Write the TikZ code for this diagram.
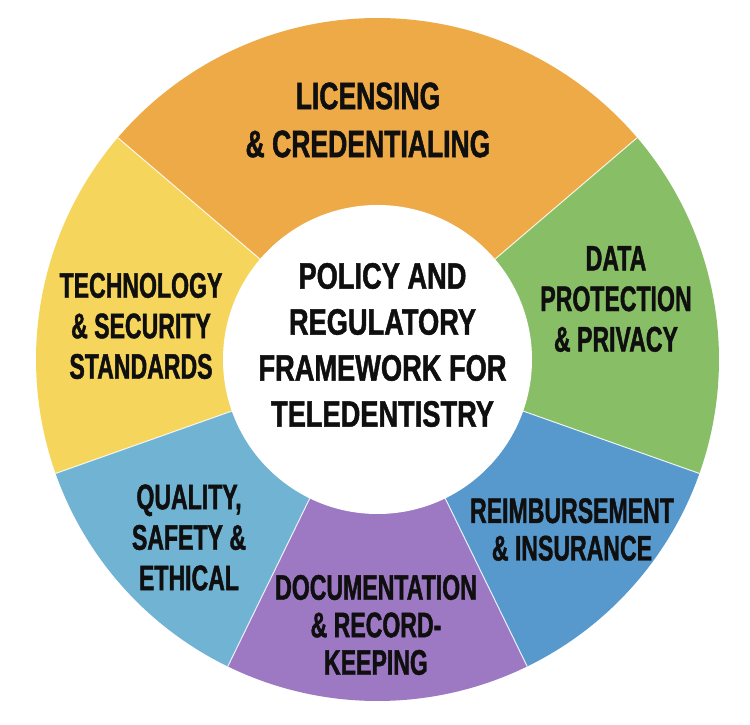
\documentclass[tikz,border=0pt]{standalone}
\usepackage{fontspec}
\newfontfamily\fontHub[FakeStretch=0.74,FakeBold=1.2]{Liberation Sans}
\newfontfamily\fontBig[FakeStretch=0.695,FakeBold=1.2]{Liberation Sans}
\newfontfamily\fontLab[FakeStretch=0.65,FakeBold=1.2]{Liberation Sans}
\usetikzlibrary{calc}
\definecolor{cOrange}{RGB}{238,170,70}
\definecolor{cYellow}{RGB}{246,213,92}
\definecolor{cGreen}{RGB}{136,190,102}
\definecolor{cBlue}{RGB}{88,153,205}
\definecolor{cLight}{RGB}{113,179,211}
\definecolor{cPurple}{RGB}{157,120,195}
\definecolor{cInk}{RGB}{15,15,15}
\begin{document}
\begin{tikzpicture}[x=1pt,y=1pt,
  sep/.style={draw=white, line width=1pt, opacity=0.85},
  lab/.style={align=center, text=cInk, inner sep=0pt, font=\fontLab\bfseries\fontsize{35.5}{40.5}\selectfont},
  labtight/.style={lab, font=\fontLab\bfseries\fontsize{35.5}{37.5}\selectfont},
  labbig/.style={align=center, text=cInk, inner sep=0pt, font=\fontBig\bfseries\fontsize{38.2}{48}\selectfont},
  hubtext/.style={align=center, text=cInk, inner sep=0pt, font=\fontHub\bfseries\fontsize{36.8}{46}\selectfont},
  hubdisk/.style={circle, fill=white, draw=none, minimum size=309pt, inner sep=0pt}]
\useasboundingbox (0,0) rectangle (750,725);
\fill[white] (0,0) rectangle (750,725);
\coordinate (C) at (377.5,365.5);
% sectors
\fill[cOrange] (C) -- ($(C)+(40.5:341.5pt)$) arc[start angle=40.5, end angle=139.5, radius=341.5pt] -- cycle;
\fill[cYellow] (C) -- ($(C)+(139.5:341.5pt)$) arc[start angle=139.5, end angle=199.5, radius=341.5pt] -- cycle;
\fill[cLight] (C) -- ($(C)+(199.5:341.5pt)$) arc[start angle=199.5, end angle=244, radius=341.5pt] -- cycle;
\fill[cPurple] (C) -- ($(C)+(244:341.5pt)$) arc[start angle=244, end angle=296, radius=341.5pt] -- cycle;
\fill[cBlue] (C) -- ($(C)+(296:341.5pt)$) arc[start angle=296, end angle=340.5, radius=341.5pt] -- cycle;
\fill[cGreen] (C) -- ($(C)+(340.5:341.5pt)$) arc[start angle=340.5, end angle=400.5, radius=341.5pt] -- cycle;
% separators
\foreach \a in {40.5,139.5,199.5,244,296,340.5}
  \draw[sep] (C) -- ($(C)+(\a:341.5pt)$);
% hub
\node[hubdisk] (hub) at (C) {};
\node[hubtext] (title) at (382.5,380) {POLICY AND\\REGULATORY\\FRAMEWORK FOR\\TELEDENTISTRY};
% labels
\node[labbig] (lic) at (368,605) {LICENSING\\\& CREDENTIALING};
\node[lab] (tech) at (141,399) {TECHNOLOGY\\\& SECURITY\\STANDARDS};
\node[lab] (data) at (616,426) {DATA\\PROTECTION\\\& PRIVACY};
\node[labtight] (reimb) at (572,195.5) {REIMBURSEMENT\\\& INSURANCE};
\node[lab] (qual) at (189,187.5) {QUALITY,\\SAFETY \&\\ETHICAL};
\node[labtight] (doc) at (376,100) {DOCUMENTATION\\\& RECORD-\\KEEPING};
\end{tikzpicture}
\end{document}
